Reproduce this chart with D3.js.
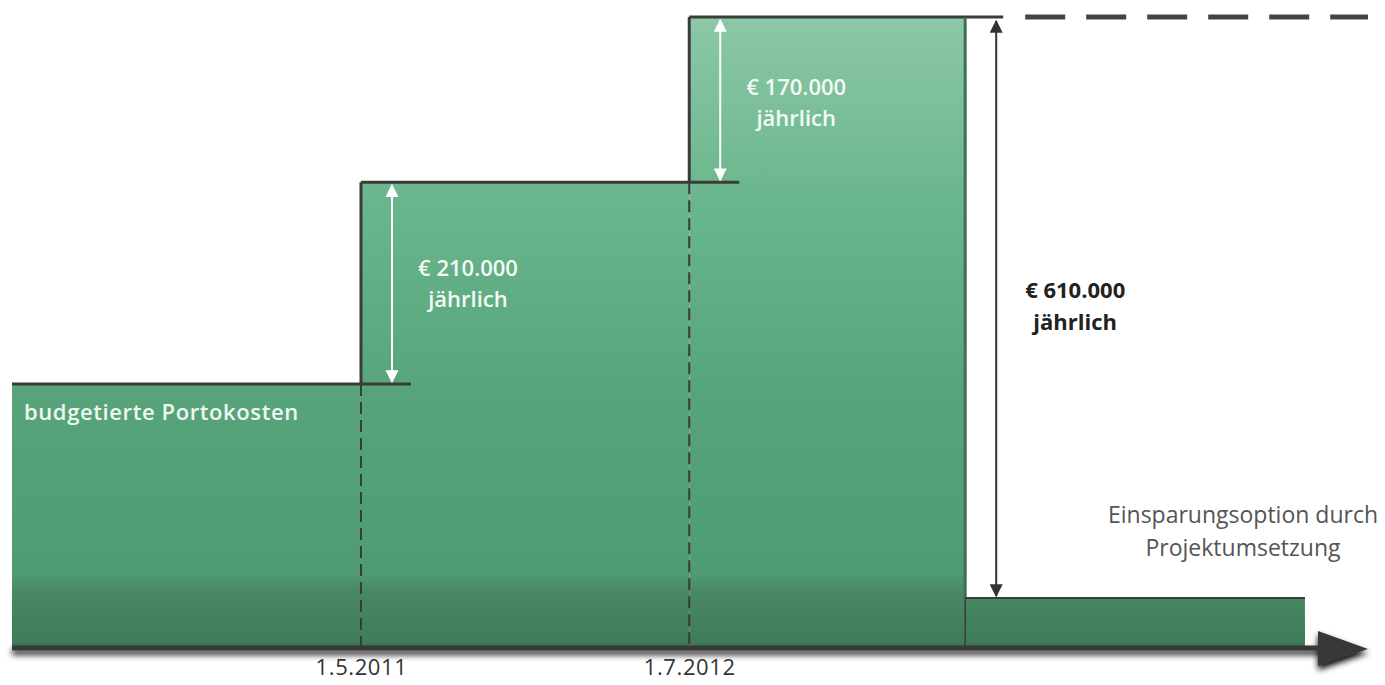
<!DOCTYPE html>
<html>
<head>
<meta charset="utf-8">
<script src="https://cdn.jsdelivr.net/npm/d3@7"></script>
<style>
  body { margin: 0; background: #fff; }
  svg { display: block; font-family: "Open Sans", sans-serif; }
</style>
</head>
<body>
<div class="canvas"></div>
<script>
// segment boundaries (dates) and level of each segment (k€ per year)
const edges = ["2010-02-01", "2011-05-01", "2012-07-01", "2013-06-25", "2014-09-10"];
const levels = [275, 485, 657, 52];
const axisEnd = "2014-12-01";
const tickDates = ["2011-05-01", "2012-07-01"];

// annotation labels
const stepLabels = [["€ 210.000", "jährlich"], ["€ 170.000", "jährlich"]];
const totalLabel = ["€ 610.000", "jährlich"];
const baseLabel = "budgetierte Portokosten";
const savingLabel = ["Einsparungsoption durch", "Projektumsetzung"];

const w = 1385;
const h = 685;
const margin = { top: 17, right: 17, bottom: 37, left: 12 };

const parse = d3.timeParse("%Y-%m-%d");
const segs = levels.map((v, i) => ({ x0: parse(edges[i]), x1: parse(edges[i + 1]), v: v }));

const x = d3.scaleTime().domain([parse(edges[0]), parse(axisEnd)]).range([margin.left, w - margin.right]);
const y = d3.scaleLinear().domain([0, d3.max(levels)]).range([h - margin.bottom, margin.top]);

const svg = d3.select(".canvas").append("svg").attr("width", w).attr("height", h);
const defs = svg.append("defs");

// vertical green gradient across the whole plot
const grad = defs.append("linearGradient").attr("id", "fill")
  .attr("gradientUnits", "userSpaceOnUse")
  .attr("x1", 0).attr("x2", 0).attr("y1", y(d3.max(levels))).attr("y2", y(0));
[[0, "#8cc8a6"], [0.3, "#69b58c"], [0.6, "#57a47a"], [0.88, "#4f9c72"], [0.91, "#478963"], [1, "#3f7a57"]]
  .forEach(([o, c]) => grad.append("stop").attr("offset", o).attr("stop-color", c));

const shadow = defs.append("filter").attr("id", "shadow").attr("y", "-50%").attr("height", "300%");
shadow.append("feGaussianBlur").attr("in", "SourceAlpha").attr("stdDeviation", 3);
shadow.append("feOffset").attr("dy", 4).attr("result", "b");
const fm = shadow.append("feMerge");
fm.append("feMergeNode").attr("in", "b");
fm.append("feMergeNode").attr("in", "SourceGraphic");

const mk = (id, color) => {
  defs.append("marker").attr("id", id)
    .attr("viewBox", "0 0 10 10").attr("refX", 9).attr("refY", 5)
    .attr("markerWidth", 13).attr("markerHeight", 13).attr("markerUnits", "userSpaceOnUse")
    .attr("orient", "auto-start-reverse")
    .append("path").attr("d", "M0,0L10,5L0,10Z").attr("fill", color);
};
mk("wArrow", "#ffffff");
mk("bArrow", "#333333");

// bars
svg.append("g").selectAll("rect").data(segs).enter().append("rect")
  .attr("x", (d) => x(d.x0))
  .attr("y", (d) => y(d.v))
  .attr("width", (d) => x(d.x1) - x(d.x0))
  .attr("height", (d) => y(0) - y(d.v))
  .attr("fill", "url(#fill)");

const lines = svg.append("g").attr("stroke", "#3b3b3b").attr("fill", "none");

// dashed dividers below previous level, solid risers above
[1, 2].forEach((i) => {
  lines.append("line")
    .attr("x1", x(segs[i].x0)).attr("x2", x(segs[i].x0))
    .attr("y1", y(segs[i - 1].v)).attr("y2", y(0))
    .attr("stroke-width", 2).attr("stroke-dasharray", "12,6");
  lines.append("line")
    .attr("x1", x(segs[i].x0)).attr("x2", x(segs[i].x0))
    .attr("y1", y(segs[i].v)).attr("y2", y(segs[i - 1].v))
    .attr("stroke-width", 3);
});

// top edges, extended a little past each step
segs.slice(0, 3).forEach((d, i) => {
  lines.append("line")
    .attr("x1", x(d.x0)).attr("x2", x(d.x1) + (i < 2 ? 50 : 38))
    .attr("y1", y(d.v)).attr("y2", y(d.v))
    .attr("stroke-width", 3);
});
// dashed continuation of top level
lines.append("line")
  .attr("x1", x(segs[2].x1) + 60).attr("x2", x(parse(axisEnd)))
  .attr("y1", y(segs[2].v)).attr("y2", y(segs[2].v))
  .attr("stroke-width", 5).attr("stroke-dasharray", "40,21").attr("stroke", "#444");

// drop after last step
lines.append("line")
  .attr("x1", x(segs[2].x1)).attr("x2", x(segs[2].x1))
  .attr("y1", y(segs[2].v)).attr("y2", y(segs[3].v))
  .attr("stroke-width", 3).attr("stroke", "#3f6e52");
lines.append("line")
  .attr("x1", x(segs[2].x1)).attr("x2", x(segs[2].x1))
  .attr("y1", y(segs[3].v)).attr("y2", y(0))
  .attr("stroke-width", 1.5);
lines.append("line")
  .attr("x1", x(segs[3].x0)).attr("x2", x(segs[3].x1))
  .attr("y1", y(segs[3].v)).attr("y2", y(segs[3].v))
  .attr("stroke-width", 2);

// baseline with arrow
const axisX = x(parse(axisEnd));
svg.append("g").attr("filter", "url(#shadow)").call((g) => {
  g.append("line")
    .attr("x1", x(parse(edges[0]))).attr("x2", axisX - 45)
    .attr("y1", y(0)).attr("y2", y(0))
    .attr("stroke", "#383838").attr("stroke-width", 5);
  g.append("path")
    .attr("d", `M${axisX - 50},${y(0) - 17}L${axisX},${y(0) + 1}L${axisX - 50},${y(0) + 18}Z`)
    .attr("fill", "#383838");
});

// date labels
const xAxis = d3.axisBottom(x)
  .tickValues(tickDates.map(parse))
  .tickSize(0).tickPadding(11)
  .tickFormat(d3.timeFormat("%-d.%-m.%Y"));
svg.append("g").attr("transform", `translate(0, ${y(0)})`).call(xAxis)
  .call((g) => g.select(".domain").remove())
  .call((g) => g.selectAll("text").attr("font-size", 22).attr("letter-spacing", 0.6)
    .attr("fill", "#333").attr("font-family", "Open Sans"));

// step arrows (white)
const labelY = [[276, 307], [95, 126]];
[1, 2].forEach((i, k) => {
  const ax = x(segs[i].x0) + 31;
  svg.append("line")
    .attr("x1", ax).attr("x2", ax)
    .attr("y1", y(segs[i].v) + 3).attr("y2", y(segs[i - 1].v) - 2)
    .attr("stroke", "#fff").attr("stroke-width", 2)
    .attr("marker-start", "url(#wArrow)").attr("marker-end", "url(#wArrow)");
  const t = svg.append("text").attr("fill", "#f4fbf6").attr("font-size", 22).attr("font-weight", 600)
    .attr("text-anchor", "middle");
  t.append("tspan").attr("x", ax + 76).attr("y", labelY[k][0]).text(stepLabels[k][0]);
  t.append("tspan").attr("x", ax + 76).attr("y", labelY[k][1]).text(stepLabels[k][1]);
});

// total arrow (dark)
const tx = x(segs[2].x1) + 31;
svg.append("line")
  .attr("x1", tx).attr("x2", tx)
  .attr("y1", y(segs[2].v) + 4).attr("y2", y(segs[3].v) - 2)
  .attr("stroke", "#333").attr("stroke-width", 2)
  .attr("marker-start", "url(#bArrow)").attr("marker-end", "url(#bArrow)");
const tt = svg.append("text").attr("fill", "#222").attr("font-size", 22).attr("font-weight", 700)
  .attr("text-anchor", "middle");
tt.append("tspan").attr("x", tx + 79).attr("y", 298).text(totalLabel[0]);
tt.append("tspan").attr("x", tx + 79).attr("y", 330).text(totalLabel[1]);

// base label
svg.append("text").attr("x", x(segs[0].x0) + 12).attr("y", y(segs[0].v) + 36)
  .attr("fill", "#eef8f1").attr("font-size", 22).attr("font-weight", 600).attr("letter-spacing", 0.6)
  .text(baseLabel);

// saving label
const st = svg.append("text").attr("fill", "#555").attr("font-size", 23)
  .attr("text-anchor", "middle");
st.append("tspan").attr("x", 1243).attr("y", 523).text(savingLabel[0]);
st.append("tspan").attr("x", 1243).attr("y", 556).text(savingLabel[1]);
</script>
</body>
</html>
